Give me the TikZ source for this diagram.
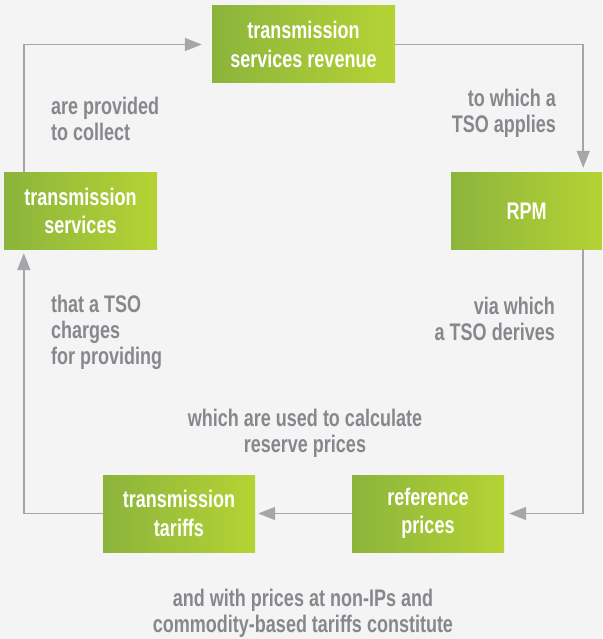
\documentclass[tikz,border=0pt]{standalone}
\usepackage{fontspec}
\setmainfont{Liberation Sans}[FakeStretch=0.75]
\usetikzlibrary{arrows.meta,calc}

\definecolor{bg}{HTML}{F4F4F4}
\definecolor{boxL}{HTML}{8CB43C}
\definecolor{boxR}{HTML}{B5D334}
\definecolor{labelgray}{HTML}{87888D}
\definecolor{linegray}{HTML}{A5A6AA}

\tikzset{
  stage/.style={shade, shading=axis, left color=boxL, right color=boxR,
    shading angle=90, inner sep=0pt, align=center, text=white,
    font=\bfseries\fontsize{24}{28.5}\selectfont},
  caption/.style={inner sep=0pt, text=labelgray,
    font=\bfseries\fontsize{24}{26}\selectfont},
  flow/.style={draw=linegray, line width=1.5pt,
    -{Triangle[length=17pt,width=13pt]}, shorten >=5pt},
}

\begin{document}
\begin{tikzpicture}[x=1pt,y=-1pt]
  % canvas
  \fill[bg] (0,0) rectangle (602,639);
  \useasboundingbox (0,0) rectangle (602,639);

  % stages of the cycle
  \node[stage, minimum width=183pt, minimum height=77pt] (tsr) at (303.5,44.5)
    {transmission\\services revenue};
  \node[stage, minimum width=151pt, minimum height=76pt] (rpm) at (526.5,211) {RPM};
  \node[stage, minimum width=153pt, minimum height=76pt] (ts) at (80.5,211)
    {transmission\\services};
  \node[stage, minimum width=152pt, minimum height=77pt] (tt) at (179,513.5)
    {transmission\\tariffs};
  \node[stage, minimum width=152pt, minimum height=77pt] (rp) at (428,513.5)
    {reference\\prices};

  % connectors
  \draw[flow, shorten >=10pt] ($(ts.north west)+(20,0)$) |- (tsr.west);
  \draw[flow] (tsr.east) -| ($(rpm.north east)+(-19,0)$);
  \draw[flow] ($(rpm.south east)+(-19,0)$) |- (rp.east);
  \draw[flow, shorten >=3pt] (rp.west) -- (tt.east);
  \draw[flow, shorten >=4pt] (tt.west) -| ($(ts.south west)+(20,0)$);

  % captions along the connectors
  \node[caption, anchor=west, align=left] (c1) at (51,119) {are provided\\to collect};
  \node[caption, anchor=east, align=right] (c2) at (556,113) {to which a\\TSO applies};
  \node[caption, anchor=west, align=left] (c3) at (51,332) {that a TSO\\charges\\for providing};
  \node[caption, anchor=east, align=right] (c4) at (555,319) {via which\\a TSO derives};
  \node[caption, align=center] (c5) at (305,433) {which are used to calculate\\reserve prices};
  \node[caption, align=center] (c6) at (303,613) {and with prices at non-IPs and\\commodity-based tariffs constitute};
\end{tikzpicture}
\end{document}
